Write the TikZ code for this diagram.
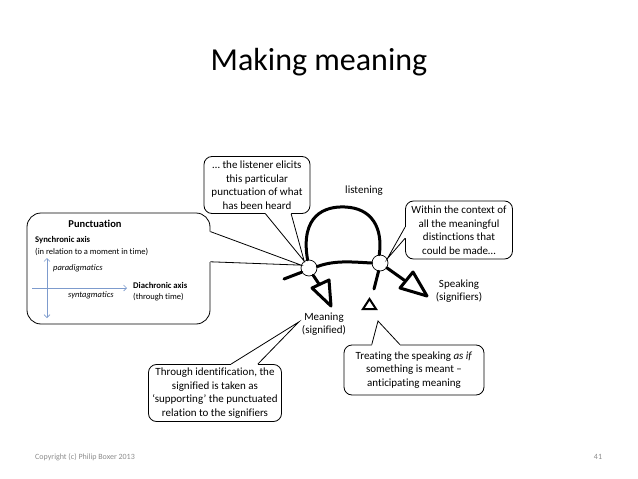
\documentclass[tikz,border=0pt]{standalone}
\usepackage{fontspec}
\setmainfont{Carlito}[Ligatures=NoCommon]
\usetikzlibrary{arrows.meta,positioning,calc}
\definecolor{axisblue}{RGB}{125,155,205}
\definecolor{footgray}{RGB}{140,140,140}

\begin{document}
\begin{tikzpicture}[
  x=1pt, y=-1pt,
  every node/.style={font=\fontsize{11}{13.5}\selectfont, inner sep=0pt},
  callbox/.style={rectangle, rounded corners=8pt, draw, fill=white,
    line width=0.8pt, align=center},
  smalltxt/.style={font=\fontsize{8.5}{10}\selectfont, anchor=west},
  boldtxt/.style={font=\fontsize{8.7}{10}\selectfont\bfseries, anchor=west},
  junction/.style={circle, draw, fill=white, minimum size=16pt, line width=0.7pt},
  heavy/.style={line width=3pt, line join=round, line cap=round},
  ptr/.style={line width=0.8pt, line join=miter},
  axisarr/.style={-{Straight Barb[length=3pt]}, color=axisblue, line width=0.6pt}
]
  \useasboundingbox (0,0) rectangle (638,479);

  \node (title) at (319,62) {\fontsize{32}{38}\selectfont Making meaning};

  % callout boxes
  \node[callbox, rounded corners=14pt, minimum width=183pt, minimum height=111pt]
    (punctbox) at (118.5,268.5) {};
  \node[callbox, minimum width=106pt, minimum height=57pt] (lis) at (257,185)
    {\dots\ the listener elicits\\this particular\\punctuation of what\\has been heard};
  \node[callbox, minimum width=107pt, minimum height=58pt] (ctx) at (459,230)
    {Within the context of\\all the meaningful\\distinctions that\\could be made\dots};
  \node[callbox, minimum width=133pt, minimum height=57pt] (ident) at (215,393)
    {Through identification, the\\signified is taken as\\`supporting' the punctuated\\relation to the signifiers};
  \node[callbox, minimum width=140pt, minimum height=50pt] (treat) at (414,370)
    {Treating the speaking \emph{as if}\\something is meant --\\anticipating meaning};

  % inside the punctuation box
  \node[font=\fontsize{10.5}{12}\selectfont\bfseries] (punct) at (95,224) {Punctuation};
  \node[boldtxt] (sync) at (35,240) {Synchronic axis};
  \node[smalltxt] (syncsub) at (35,252) {(in relation to a moment in time)};
  \node[smalltxt] (para) at (53,268) {\itshape paradigmatics};
  \node[smalltxt] (synt) at (68,295) {\itshape syntagmatics};
  \node[boldtxt] (dia) at (133,285) {Diachronic axis};
  \node[smalltxt] (diasub) at (133,297) {(through time)};
  \coordinate (vtop) at (47,258);
  \coordinate (vbot) at (47,318);
  \coordinate (hleft) at (32,288);
  \coordinate (hright) at (127,288);
  \draw[axisarr, {Straight Barb[length=3pt]}-{Straight Barb[length=3pt]}] (vtop) -- (vbot);
  \draw[axisarr] (hleft) -- (hright);

  % the graph
  \node[junction] (lnode) at (309,268) {};
  \node[junction] (rnode) at (380,263) {};
  \node (listening) at (364,191) {listening};
  \node[align=center] (spk) at (459,291) {Speaking\\(signifiers)};
  \node[align=center] (mean) at (324,324) {Meaning\\(signified)};

  \draw[heavy] (lnode.100) .. controls (300,215) and (325,206) .. (345,207)
    .. controls (372,208) and (383,228) .. (rnode.95);
  \draw[heavy] (lnode.10) .. controls (335,260) and (352,262) .. (rnode.180);
  \draw[heavy] (lnode.210) -- (284,279);
  \draw[heavy] (lnode.-60) -- (319,284);
  \draw[heavy] (312,288) -- (329,280) -- (331,306) -- cycle;
  \draw[heavy] (rnode.-100) -- (374,289);
  \draw[line width=2pt, line join=miter] (363,309) -- (369.5,299) -- (376,309) -- cycle;
  \draw[heavy] (rnode.-35) -- (404,280);
  \draw[heavy] (400,288) -- (413,272) -- (427,296) -- cycle;

  % callout pointers
  \coordinate (meanTip) at ($(mean.west)+(-3,-2)$);
  \coordinate (treatTip) at (378,321);
  \coordinate (pA) at ($(punctbox.north east)!.17!(punctbox.south east)$);
  \coordinate (pB) at ($(punctbox.north east)!.44!(punctbox.south east)$);
  \coordinate (lA) at ($(lis.south west)!.58!(lis.south east)$);
  \coordinate (lB) at ($(lis.south west)!.82!(lis.south east)$);
  \coordinate (cA) at ($(ctx.north west)!.45!(ctx.south west)$);
  \coordinate (cB) at ($(ctx.north west)!.64!(ctx.south west)$);
  \coordinate (iA) at ($(ident.north west)!.62!(ident.north east)$);
  \coordinate (iB) at ($(ident.north west)!.82!(ident.north east)$);
  \coordinate (tA) at ($(treat.north west)!.2!(treat.north east)$);
  \coordinate (tB) at ($(treat.north west)!.4!(treat.north east)$);
  \foreach \a/\b/\t/\d in {pA/pB/lnode.160/{-1.5,0}, lA/lB/lnode.125/{0,-1.5},
                           cA/cB/rnode.30/{1.5,0}, iA/iB/meanTip/{0,1.5},
                           tA/tB/treatTip/{0,1.5}} {
    \fill[white] ($(\a)+(\d)$) -- (\a) -- (\t) -- (\b) -- ($(\b)+(\d)$) -- cycle;
    \draw[ptr] (\a) -- (\t) -- (\b);
  }

  % footer
  \node[font=\fontsize{8}{9}\selectfont, text=footgray, anchor=west] (copy) at (35,457)
    {Copyright (c) Philip Boxer 2013};
  \node[font=\fontsize{8}{9}\selectfont, text=footgray] (page) at (598,457) {41};
\end{tikzpicture}
\end{document}
